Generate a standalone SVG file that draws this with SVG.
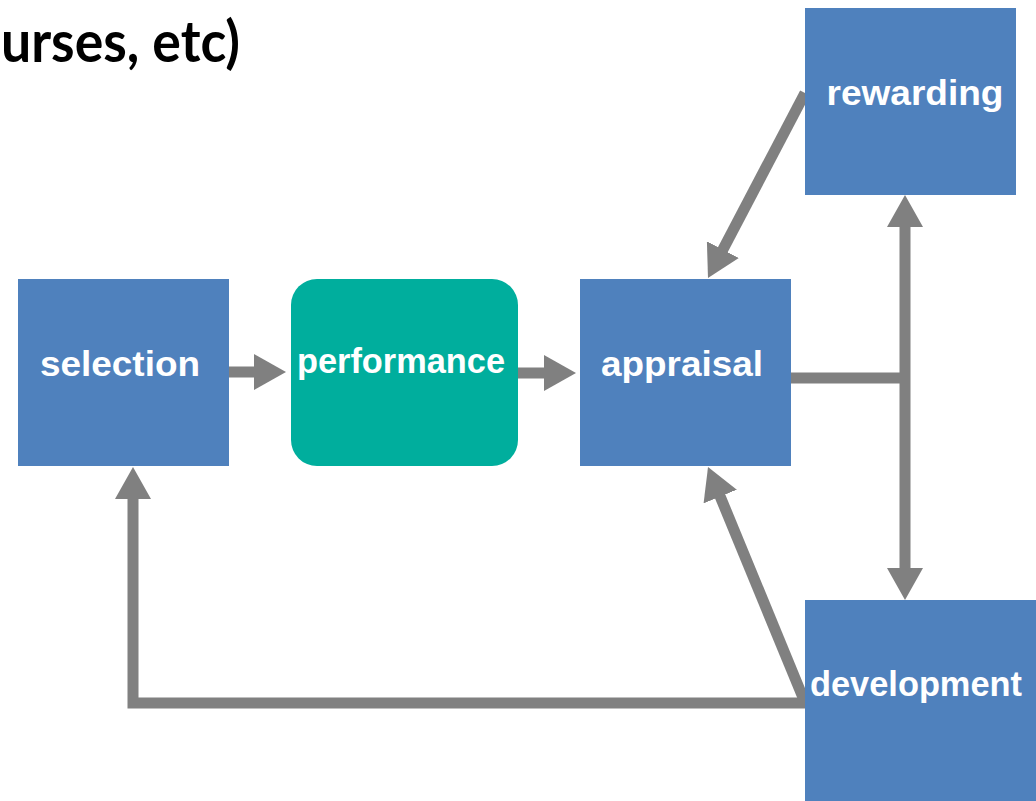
<svg xmlns="http://www.w3.org/2000/svg" width="1036" height="801" viewBox="0 0 1036 801">
  <style>
    .box { fill: #4F81BD; }
    .soft { fill: #00AE9D; }
    .label { font-family: "Liberation Sans", Arial, sans-serif; font-weight: bold; fill: #FFFFFF; font-size: 35px; text-anchor: middle; }
    .title { font-family: Lato, "Open Sans", "Liberation Sans", sans-serif; font-weight: bold; fill: #000000; font-size: 58px; }
    .wire { fill: none; stroke: #808080; stroke-width: 11; stroke-linejoin: miter; }
  </style>
  <defs>
    <marker id="head" markerUnits="userSpaceOnUse" markerWidth="32" markerHeight="36" refX="10" refY="18" orient="auto-start-reverse">
      <path d="M0,0 L32,18 L0,36 Z" fill="#808080"/>
    </marker>
  </defs>

  <rect width="1036" height="801" fill="#FFFFFF"/>

  <text class="title" x="1" y="62" textLength="239" lengthAdjust="spacingAndGlyphs">urses, etc)</text>

  <!-- connectors -->
  <g id="connectors">
    <line class="wire" x1="229" y1="372" x2="264" y2="372" marker-end="url(#head)"/>
    <line class="wire" x1="518" y1="373" x2="554" y2="373" marker-end="url(#head)"/>
    <line class="wire" x1="791" y1="378" x2="905" y2="378"/>
    <line class="wire" x1="905" y1="217" x2="905" y2="578" marker-start="url(#head)" marker-end="url(#head)"/>
    <line class="wire" x1="805" y1="93" x2="718.2" y2="258.5" marker-end="url(#head)"/>
    <line class="wire" x1="804" y1="700" x2="716.4" y2="487.3" marker-end="url(#head)"/>
    <path class="wire" d="M805,703 H133 V489" marker-end="url(#head)"/>
  </g>

  <g id="selection">
    <rect class="box" x="18" y="279" width="211" height="187"/>
    <text class="label" x="120" y="376" textLength="160" lengthAdjust="spacingAndGlyphs">selection</text>
  </g>

  <g id="performance">
    <rect class="soft" x="291" y="279" width="227" height="187" rx="26" ry="26"/>
    <text class="label" x="401" y="373" textLength="208" lengthAdjust="spacingAndGlyphs">performance</text>
  </g>

  <g id="appraisal">
    <rect class="box" x="580" y="279" width="211" height="187"/>
    <text class="label" x="682" y="376" textLength="162" lengthAdjust="spacingAndGlyphs">appraisal</text>
  </g>

  <g id="rewarding">
    <rect class="box" x="805" y="8" width="211" height="187"/>
    <text class="label" x="915" y="105" textLength="177" lengthAdjust="spacingAndGlyphs">rewarding</text>
  </g>

  <g id="development">
    <rect class="box" x="805" y="600" width="231" height="201"/>
    <text class="label" x="916" y="696" textLength="212" lengthAdjust="spacingAndGlyphs">development</text>
  </g>
</svg>
